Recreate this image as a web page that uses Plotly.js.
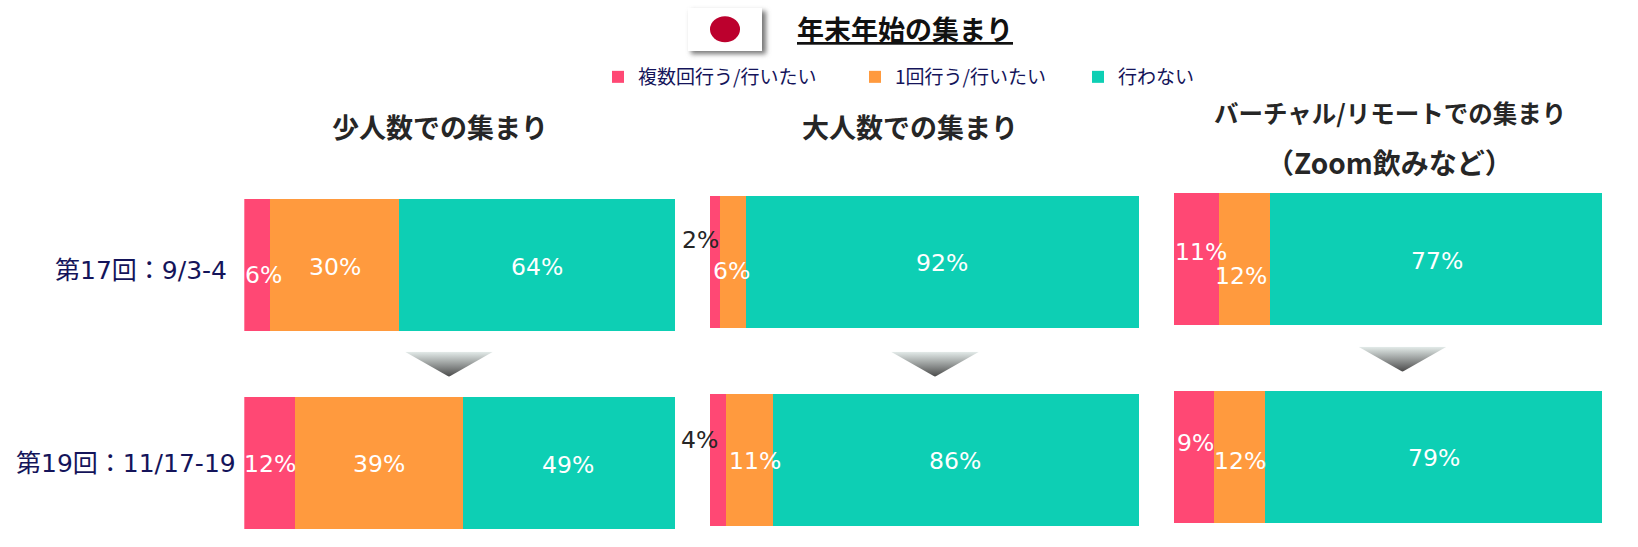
<!DOCTYPE html>
<html><head><meta charset="utf-8">
<script src="https://cdn.plot.ly/plotly-3.0.1.min.js"></script>
<style>html,body{margin:0;padding:0;background:#fff}#chart{width:1638px;height:547px}</style>
</head><body><div id="chart"></div>
<script>
// ---- data ----
const rounds = ['第17回：9/3-4', '第19回：11/17-19'];
const seriesNames = ['複数回行う/行いたい', '1回行う/行いたい', '行わない'];
const seriesColors = ['#FF4874', '#FF9A3E', '#0DCFB4'];
const panelTitles = ['少人数での集まり', '大人数での集まり', 'バーチャル/リモートでの集まり'];
const panel3Subtitle = '（Zoom飲みなど）';
const mainTitle = '年末年始の集まり';
const smallGroup = [[6, 11.75], [30, 39], [64, 49.25]];
const largeGroup = [[2.3, 3.7], [6.1, 10.9], [91.6, 85.4]];
const virtualGroup = [[10.5, 9.3], [12, 12], [77.5, 78.7]];
const smallLabels = [['6%', '12%'], ['30%', '39%'], ['64%', '49%']];
const largeLabels = [['2%', '4%'], ['6%', '11%'], ['92%', '86%']];
const virtualLabels = [['11%', '9%'], ['12%', '12%'], ['77%', '79%']];
const panelValues = [smallGroup, largeGroup, virtualGroup];
const panelLabels = [smallLabels, largeLabels, virtualLabels];

// ---- layout constants (pixels) ----
const W = 1638, H = 547, TOP = 170, BOT = 545, BAR_H = 132;
const geom = [
  {l: 244.3, r: 675.3, c1: 264.8, c2: 463.35, tx: 440,  ty: 127, ts: 27},
  {l: 710,   r: 1139,  c1: 261.8, c2: 459.5,  tx: 910,  ty: 126, ts: 27},
  {l: 1174,  r: 1602.3,c1: 258.8, c2: 457.3,  tx: 1390, ty: 113, ts: 24.5}
];
// label nudges per panel / series / round: [dx, dy(up)]
const nudges = [
  [[[5.8,-10.7],[0,-1]], [[0,-2.7],[-0.3,-1]], [[0,-2.2],[-0.9,-2]]],
  [[[-14.6,21.3],[-18.9,19]], [[-1,-9.4],[5.7,-2]], [[-0.5,-1.4],[-0.8,-2]]],
  [[[4.5,6.5],[1.8,14.3]], [[-3.7,-17.2],[0.5,-3.7]], [[0.4,-2.5],[0.2,-1]]]
];
const legendWidths = [212, 178, 100];
const LATIN = '"DejaVu Sans","Noto Sans CJK JP",sans-serif';
const CJK = '"Noto Sans CJK JP","DejaVu Sans",sans-serif';
const NAVY = '#14145A', DARK = '#262626';

const traces = [], annotations = [], images = [];
const layout = {
  width: W, height: H, margin: {l:0,r:0,t:0,b:0}, paper_bgcolor:'#fff', plot_bgcolor:'rgba(0,0,0,0)',
  barmode:'stack', barnorm:'percent', hovermode:false,
  showlegend:true,
  legend:{orientation:'h', x:598/W, xanchor:'left', y:1-58/H, yanchor:'top', traceorder:'normal',
          font:{family:CJK, size:19, color:NAVY}, bgcolor:'rgba(0,0,0,0)', itemclick:false, itemdoubleclick:false}
};
const note = (x, y, text, font, extra) => annotations.push(Object.assign(
  {xref:'paper', yref:'paper', x:x/W, y:1-y/H, text, font, showarrow:false, xanchor:'center', yanchor:'middle'}, extra||{}));

geom.forEach((g, p) => {
  const sfx = p === 0 ? '' : String(p + 1);
  const sp = g.c2 - g.c1;
  layout['xaxis' + sfx] = {domain:[g.l/W, g.r/W], range:[0,100], visible:false, fixedrange:true, anchor:'y'+sfx};
  layout['yaxis' + sfx] = {domain:[1-BOT/H, 1-TOP/H], type:'category', categoryorder:'array', categoryarray:rounds,
    range:[(BOT-g.c1)/sp, (TOP-g.c1)/sp], visible:false, fixedrange:true, anchor:'x'+sfx};
  const vals = panelValues[p];
  vals.forEach((v, s) => {
    traces.push({type:'bar', orientation:'h', x:v, y:rounds, name:seriesNames[s], width:BAR_H/sp,
      marker:{color:seriesColors[s], line:{width:0}}, xaxis:'x'+sfx, yaxis:'y'+sfx,
      showlegend:p===0, legendwidth:legendWidths[s], hoverinfo:'skip', textposition:'none'});
  });
  rounds.forEach((r, ri) => {
    const sum = vals.reduce((a,b)=>a+b[ri],0);
    let cum = 0;
    vals.forEach((v, s) => {
      const mid = (cum + v[ri]/2)/sum*100; cum += v[ri];
      const outside = p===1 && s===0;
      annotations.push({xref:'x'+sfx, yref:'y'+sfx, x:mid, y:r, text:panelLabels[p][s][ri], showarrow:false,
        xanchor:'center', yanchor:'middle',
        xshift:nudges[p][s][ri][0], yshift:nudges[p][s][ri][1],
        font:{family:LATIN, size:23.5, color: outside ? DARK : '#fff'}});
    });
  });
  note(g.tx, g.ty, '<b>'+panelTitles[p]+'</b>', {family:CJK, size:g.ts, color:DARK});
});

// row labels
note(228.5, 270, rounds[0], {family:LATIN, size:25, color:NAVY}, {xanchor:'right'});
note(238, 464, rounds[1], {family:LATIN, size:25, color:NAVY}, {xanchor:'right'});
// sub title & main title
note(1389, 162, '<b>'+panel3Subtitle+'</b>', {family:CJK, size:28, color:DARK});
note(905, 29, '<b>'+mainTitle+'</b>', {family:CJK, size:27, color:'#111', lineposition:'under'});
layout.annotations = annotations;

// arrows
const arrowSvg = '<svg xmlns="http://www.w3.org/2000/svg" width="88" height="25" viewBox="0 0 88 25"><defs><linearGradient id="g" x1="0" y1="0" x2="0" y2="1"><stop offset="0" stop-color="#E4ECEA"/><stop offset="1" stop-color="#4A4A4A"/></linearGradient></defs><polygon points="0,0 88,0 44,25" fill="url(#g)"/></svg>';
const arrowSrc = 'data:image/svg+xml;utf8,' + encodeURIComponent(arrowSvg);
[[449,351.7],[935,351.7],[1402.5,346.7]].forEach(a => images.push({source:arrowSrc, xref:'paper', yref:'paper',
  x:(a[0]-44)/W, y:1-a[1]/H, sizex:88/W, sizey:25/H, xanchor:'left', yanchor:'top', sizing:'stretch', layer:'above'}));
// flag
const flagSvg = '<svg xmlns="http://www.w3.org/2000/svg" width="90" height="56" viewBox="0 0 90 56"><defs><filter id="b" x="-20%" y="-20%" width="140%" height="140%"><feGaussianBlur stdDeviation="2.5"/></filter></defs><rect x="8" y="7" width="75" height="43" fill="#777" filter="url(#b)"/><rect x="5" y="4" width="74" height="43" fill="#fff"/><ellipse cx="42" cy="25.3" rx="15" ry="13" fill="#BC002D"/></svg>';
images.push({source:'data:image/svg+xml;utf8,'+encodeURIComponent(flagSvg), xref:'paper', yref:'paper',
  x:683/W, y:1-4/H, sizex:90/W, sizey:56/H, xanchor:'left', yanchor:'top', sizing:'stretch', layer:'above'});
layout.images = images;

Plotly.newPlot('chart', traces, layout, {displayModeBar:false, staticPlot:true});
</script></body></html>
